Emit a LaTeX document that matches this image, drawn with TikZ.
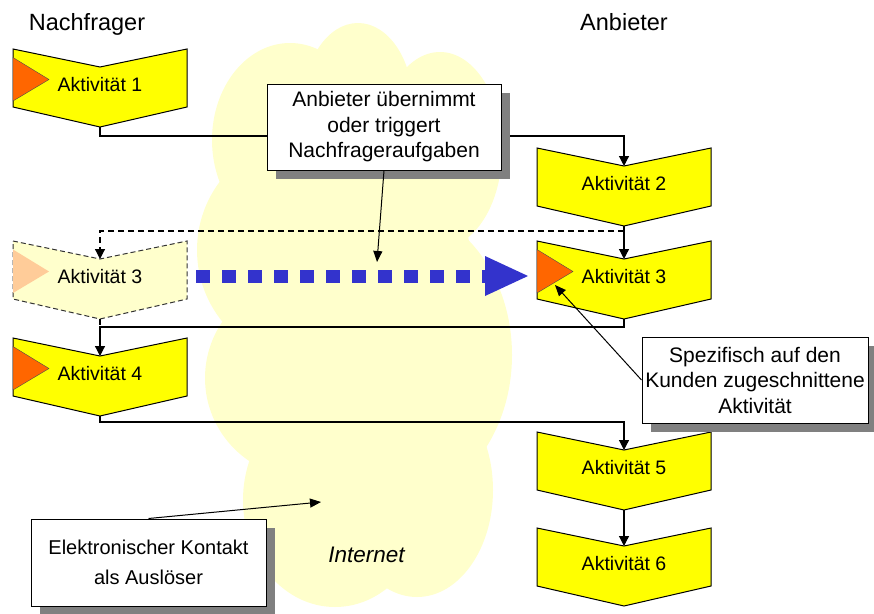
\documentclass[tikz,border=0pt]{standalone}
\usepackage{fontspec}
\setmainfont{Liberation Sans}
\usetikzlibrary{arrows.meta,shadows}
\definecolor{cloudy}{HTML}{FFFFCC}
\definecolor{chevy}{HTML}{FFFF00}
\definecolor{trior}{HTML}{FF6600}
\definecolor{trilight}{HTML}{FFCC99}
\definecolor{blueish}{HTML}{3333CC}
\definecolor{shadowgray}{HTML}{808080}
\tikzset{
  chevsolid/.style={draw=black, line width=1pt, fill=chevy, line join=miter},
  chevfaded/.style={draw=black!80, line width=1pt, fill=cloudy, dash pattern=on 5pt off 3pt},
  trisolid/.style={fill=trior, draw=black!70, line width=0.4pt},
  trifaded/.style={fill=trilight},
  acttext/.style={anchor=base, inner sep=0pt, font=\fontsize{19.5}{22}\selectfont},
  conn/.style={draw=black, line width=1.2pt, -{Triangle[length=10pt,width=10pt]}},
  plainline/.style={draw=black, line width=1.2pt},
  dashconn/.style={draw=black, line width=1.2pt, dash pattern=on 6pt off 4pt},
  thinarrow/.style={draw=black, line width=1pt, -{Triangle[length=11pt,width=9pt]}},
  callout/.style={draw=black, line width=1pt, fill=white, align=center, inner sep=0pt,
    general shadow={fill=shadowgray, shadow xshift=9pt, shadow yshift=-9pt}},
  title/.style={anchor=base, inner sep=0pt, font=\fontsize{23.5}{26}\selectfont}
}
\newcommand\activity[6]{%
  \begin{scope}[shift={(#2,#3)}]
    \draw[#5] (0,0) -- (87,18) -- (174,0) -- (174,58) -- (87,78) -- (0,58) -- cycle;
    \path[#6] (0,8.5) -- (36,30.5) -- (0,52) -- cycle;
    \node[acttext] (#1) at (87,42.5) {#4};
    \coordinate (#1-in) at (87,18);
    \coordinate (#1-out) at (87,78);
  \end{scope}}
\begin{document}
\begin{tikzpicture}[x=1pt,y=-1pt]
\useasboundingbox (0,0) rectangle (874,613);
% cloud
\begin{scope}[fill=cloudy]
  \fill (290,140) ellipse [x radius=78, y radius=97];
  \fill (358,105) ellipse [x radius=55, y radius=82];
  \fill (440,150) ellipse [x radius=62, y radius=98];
  \fill (311,250) circle [radius=114];
  \fill (390,355) ellipse [x radius=122, y radius=150];
  \fill (305,378) circle [radius=100];
  \fill (335,500) ellipse [x radius=92, y radius=107];
  \fill (417,490) ellipse [x radius=76, y radius=107];
  \fill (355,320) ellipse [x radius=120, y radius=250];
\end{scope}
% titles
\node[title] (tN) at (87,30) {Nachfrager};
\node[title] (tA) at (624,30) {Anbieter};
% activities
\activity{A1}{13}{49}{Aktivität 1}{chevsolid}{trisolid}
\activity{A2}{537}{148}{Aktivität 2}{chevsolid}{}
\activity{A3L}{13}{241}{Aktivität 3}{chevfaded}{trifaded}
\activity{A3R}{537}{241}{Aktivität 3}{chevsolid}{trisolid}
\activity{A4}{13}{338}{Aktivität 4}{chevsolid}{trisolid}
\activity{A5}{537}{432}{Aktivität 5}{chevsolid}{}
\activity{A6}{537}{528}{Aktivität 6}{chevsolid}{}
% connectors
\draw[conn] (A1-out) -- ++(0,9) -| (A2-in);
\draw[conn] (A2-out) -- (A3R-in);
\path (A2-out) ++(0,5) coordinate (split1);
\draw[dashconn, -{Triangle[length=10pt,width=10pt]}] (split1) -| (A3L-in);
\draw[dashconn] (A3L-out) -- ++(0,8);
\draw[conn] (A3R-out) -- ++(0,8) -| (A4-in);
\draw[conn] (A4-out) -- ++(0,6) -| (A5-in);
\draw[conn] (A5-out) -- (A6-in);
% blue dotted arrow
\coordinate (bstart) at (196,276);
\coordinate (bend) at (498,276);
\coordinate (btip) at (528,276);
\draw[blueish, line width=13pt, dash pattern=on 14pt off 12pt] (bstart) -- (bend);
\fill[blueish] (485,256) -- (btip) -- (485,296) -- cycle;
% callouts
\node[callout, minimum width=234pt, minimum height=86pt, font=\fontsize{21}{25.5}\selectfont] (c1) at (384,127)
  {Anbieter übernimmt\\oder triggert\\Nachfrageraufgaben};
\node[callout, minimum width=226pt, minimum height=86pt, font=\fontsize{21}{25.5}\selectfont] (c2) at (755,380)
  {Spezifisch auf den\\Kunden zugeschnittene\\Aktivität};
\node[callout, minimum width=235pt, minimum height=87pt, font=\fontsize{20}{30}\selectfont] (c3) at (148.5,562.5)
  {Elektronischer Kontakt\\als Auslöser};
\coordinate (c1t) at (377,262);
\coordinate (c2t) at (555,285);
\coordinate (c3t) at (321,502);
\draw[thinarrow] (c1.south) -- (c1t);
\draw[thinarrow] (c2.west) -- (c2t);
\draw[thinarrow] (c3.north) -- (c3t);
% internet label
\node[anchor=base, inner sep=0pt, font=\fontsize{22.5}{25}\selectfont\itshape] (inet) at (366.5,562) {Internet};
\end{tikzpicture}
\end{document}
